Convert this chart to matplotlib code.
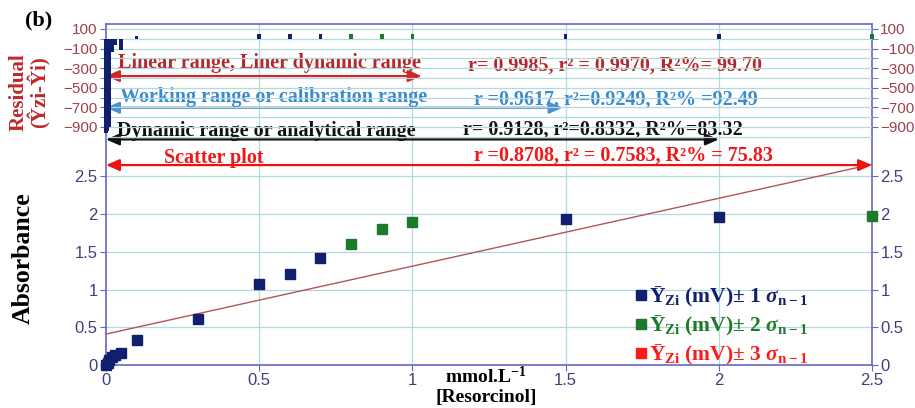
import matplotlib
matplotlib.use("Agg")
import matplotlib.pyplot as plt
from matplotlib.lines import Line2D
import numpy as np

# ---------------- data ----------------
x_blue = [0, 0.005, 0.01, 0.02, 0.03, 0.05, 0.1, 0.3, 0.5, 0.6, 0.7, 1.5, 2.0]
y_blue = [0.0, 0.03, 0.06, 0.10, 0.13, 0.16, 0.33, 0.61, 1.08, 1.20, 1.42, 1.93, 1.96]
x_green = [0.8, 0.9, 1.0, 2.5]
y_green = [1.60, 1.80, 1.90, 1.97]

res_blue = [-960, -940, -900, -130, -60, -110, 25, 0, 45, 45, 45, 45, 45]
res_green = [45, 45, 45, 45]

trend_intercept = 0.41
trend_slope = 0.90

abs_ticks = [0, 0.5, 1, 1.5, 2, 2.5]
abs_ticklabels = ["0", "0.5", "1", "1.5", "2", "2.5"]
res_ticks = [100, -100, -300, -500, -700, -900]
res_grid = list(range(100, -1001, -100))
x_ticks = [0, 0.5, 1, 1.5, 2, 2.5]
x_ticklabels = ["0", "0.5", "1", "1.5", "2", "2.5"]

range_labels = ["Linear range, Liner dynamic range",
                "Working range or calibration range",
                "Dynamic range or analytical range",
                "Scatter plot"]
range_ends = [1.03, 1.49, 2.0, 2.5]
range_stats = ["r= 0.9985, r² = 0.9970, R²%= 99.70",
               "r =0.9617, r²=0.9249, R²% =92.49",
               "r= 0.9128, r²=0.8332, R²%=83.32",
               "r =0.8708, r² = 0.7583, R²% = 75.83"]
legend_labels = ["Ȳ$_{\\mathbf{Zi}}$ (mV)± 1 $\\sigma_{\\mathbf{n-1}}$",
                 "Ȳ$_{\\mathbf{Zi}}$ (mV)± 2 $\\sigma_{\\mathbf{n-1}}$",
                 "Ȳ$_{\\mathbf{Zi}}$ (mV)± 3 $\\sigma_{\\mathbf{n-1}}$"]

# ---------------- style ----------------
plt.rcParams["mathtext.fontset"] = "custom"
plt.rcParams["mathtext.rm"] = "Liberation Serif:bold"
plt.rcParams["mathtext.bf"] = "Liberation Serif:bold"
plt.rcParams["mathtext.it"] = "Liberation Serif:italic:bold"

SERIF = ["Liberation Serif", "DejaVu Serif"]
SANS = ["Liberation Sans", "DejaVu Sans"]
NARROW = ["Liberation Sans Narrow", "Liberation Sans", "DejaVu Sans"]

navy = "#121f6e"
green = "#1d7a2a"
red3 = "#ff1a1a"
grid_c = "#b4d8dc"
spine_c = "#6666c4"
res_lab_c = "#a0404c"
abs_lab_c = "#40407c"

range_text_c = ["#b8262a", "#3a8ad0", "#111111", "#f01818"]
range_arrow_c = ["#d02525", "#4a8fd0", "#111111", "#f01010"]
range_text_y = [4.00, 3.55, 3.10, 2.745]
stats_y = [3.97, 3.52, 3.12, 2.77]
range_arrow_y = [3.83, 3.41, 2.99, 2.65]
range_text_x = [0.04, 0.045, 0.035, 0.19]
stats_x = [1.18, 1.20, 1.165, 1.20]

fig = plt.figure(figsize=(9.15, 4.08), dpi=100)
pos = [106 / 915, 43 / 408, 766 / 915, 341 / 408]
ax = fig.add_axes(pos)
ax.set_xlim(0, 2.5)
ax.set_ylim(0, 4.52)

# residual axes overlaid
axr = fig.add_axes(pos, sharex=ax)
axr.patch.set_visible(False)
axr.set_ylim(-3330, 151)
for s in axr.spines.values():
    s.set_visible(False)
axr.xaxis.set_visible(False)

# grid
for g in res_grid:
    axr.axhline(g, color=grid_c, lw=0.9, zorder=0)
for t in abs_ticks[1:]:
    ax.axhline(t, color=grid_c, lw=0.9, zorder=0)
for t in x_ticks[1:-1]:
    ax.axvline(t, color=grid_c, lw=0.9, zorder=0)

for s in ax.spines.values():
    s.set_color(spine_c)
    s.set_linewidth(1.2)

# ticks
ax.set_xticks(x_ticks)
ax.set_xticklabels(x_ticklabels)
ax.set_yticks(abs_ticks)
ax.set_yticklabels(abs_ticklabels)
ax.tick_params(axis="y", left=True, right=True, labelleft=True, labelright=True,
               direction="out", length=4, color=spine_c, labelcolor=abs_lab_c,
               labelsize=12, pad=2)
ax.tick_params(axis="x", direction="out", length=4, color=spine_c,
               labelcolor=abs_lab_c, labelsize=12, pad=2)
for lab in ax.get_xticklabels() + ax.get_yticklabels():
    lab.set_family(SANS)

axr.set_yticks(res_ticks)
axr.set_yticks(res_grid[:-1], minor=True)
axr.yaxis.set_ticks_position("both")
axr.tick_params(axis="y", which="both", left=True, right=True, labelleft=True,
                labelright=True, direction="out", length=4, color=spine_c,
                labelcolor=res_lab_c, labelsize=11, pad=2)
axr.tick_params(axis="y", which="minor", labelleft=False, labelright=False)
for lab in axr.get_yticklabels():
    lab.set_family(NARROW)

# trend line
xt = np.array([0, 2.5])
ax.plot(xt, trend_intercept + trend_slope * xt, color="#b05555", lw=1.0, zorder=2)

# scatter points
ax.plot(x_blue, y_blue, "s", color=navy, ms=7.5, zorder=4, clip_on=False)
ax.plot(x_green, y_green, "s", color=green, ms=7.5, zorder=4, clip_on=False)

# residual bars
axr.bar(x_blue, res_blue, width=0.012, color=navy, zorder=3, clip_on=False)
axr.bar(x_green, res_green, width=0.012, color=green, zorder=3, clip_on=False)

# range arrows and texts
for i in range(4):
    ax.annotate("", xy=(range_ends[i], range_arrow_y[i]), xytext=(0, range_arrow_y[i]),
                arrowprops=dict(arrowstyle="<|-|>,head_length=0.8,head_width=0.35",
                                color=range_arrow_c[i], lw=1.6, shrinkA=0, shrinkB=0),
                annotation_clip=False, zorder=5)
    ax.text(range_text_x[i], range_text_y[i], range_labels[i], color=range_text_c[i],
            family=SERIF, weight="bold", fontsize=14.5, va="center", ha="left", zorder=6)
    ax.text(stats_x[i], stats_y[i], range_stats[i], color=range_text_c[i],
            family=SERIF, weight="bold", fontsize=14.5, va="center", ha="left", zorder=6)

# legend
handles = [Line2D([], [], marker="s", ls="none", color=c, ms=6.5)
           for c in (navy, green, red3)]
leg = ax.legend(handles, legend_labels, loc="upper left",
                bbox_to_anchor=(0.677, 0.265), frameon=False, handlelength=0.5,
                handletextpad=0.15, labelspacing=0.22, borderpad=0,
                prop=dict(family=SERIF, weight="bold", size=15.5),
                labelcolor=[navy, green, red3])

# labels
fig.text(0.032, 0.775, "Residual\n(Ŷzi-Ŷi)", rotation=90, color="#c0272d",
         family=SERIF, weight="bold", fontsize=15, ha="center", va="center",
         linespacing=0.95)
fig.text(0.025, 0.368, "Absorbance", rotation=90, color="black",
         family=SERIF, weight="bold", fontsize=18.5, ha="center", va="center")
fig.text(0.042, 0.951, "(b)", color="black", family=SERIF, weight="bold",
         fontsize=16, ha="center", va="center")
fig.text(0.531, 0.076, "mmol.L$^{\\mathbf{-1}}$", color="black", family=SERIF,
         weight="bold", fontsize=14, ha="center", va="center")
fig.text(0.531, 0.025, "[Resorcinol]", color="black", family=SERIF,
         weight="bold", fontsize=14, ha="center", va="center")

fig.savefig("out.png", dpi=100)
